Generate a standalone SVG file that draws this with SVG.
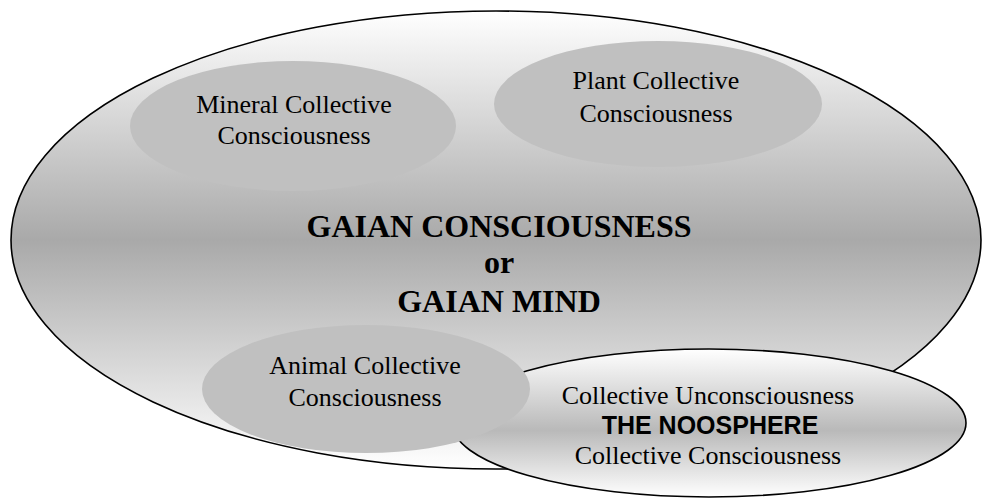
<svg xmlns="http://www.w3.org/2000/svg" width="982" height="502" viewBox="0 0 982 502">
  <defs>
    <linearGradient id="gBig" x1="0" y1="0" x2="0" y2="1">
      <stop offset="0" stop-color="#ffffff"/>
      <stop offset="0.5" stop-color="#a9a9a9"/>
      <stop offset="1" stop-color="#ffffff"/>
    </linearGradient>
    <linearGradient id="gNoo" x1="0" y1="0" x2="0" y2="1">
      <stop offset="0" stop-color="#ffffff"/>
      <stop offset="0.55" stop-color="#b9b9b9"/>
      <stop offset="1" stop-color="#ffffff"/>
    </linearGradient>
  </defs>
  <style>
    .sub { fill: #c0c0c0; stroke: none; }
    .outline { stroke: #000; stroke-width: 1.6; }
    .t { font-family: "Liberation Serif", "Times New Roman", serif; font-size: 26px; fill: #000; text-anchor: middle; }
    .title { font-family: "Liberation Serif", "Times New Roman", serif; font-size: 32px; font-weight: bold; fill: #000; text-anchor: middle; }
    .noo { font-family: "Liberation Sans", Arial, sans-serif; font-size: 25px; font-weight: bold; fill: #000; text-anchor: middle; }
  </style>
  <g id="gaian">
    <ellipse class="outline" cx="496" cy="240" rx="485" ry="229" fill="url(#gBig)"/>
    <text class="title" x="499" y="237">GAIAN CONSCIOUSNESS</text>
    <text class="title" x="499" y="273">or</text>
    <text class="title" x="499" y="312">GAIAN MIND</text>
  </g>
  <g id="mineral">
    <ellipse class="sub" cx="293" cy="126" rx="163" ry="65"/>
    <text class="t" x="294" y="113">Mineral Collective</text>
    <text class="t" x="294" y="144">Consciousness</text>
  </g>
  <g id="plant">
    <ellipse class="sub" cx="658" cy="104" rx="164" ry="63"/>
    <text class="t" x="656" y="89">Plant Collective</text>
    <text class="t" x="656" y="122">Consciousness</text>
  </g>
  <g id="noosphere">
    <ellipse class="outline" cx="709" cy="423" rx="257" ry="74" fill="url(#gNoo)"/>
    <text class="t" x="708" y="404">Collective Unconsciousness</text>
    <text class="noo" x="710" y="434">THE NOOSPHERE</text>
    <text class="t" x="708" y="464">Collective Consciousness</text>
  </g>
  <g id="animal">
    <ellipse class="sub" cx="366" cy="389" rx="164" ry="64"/>
    <text class="t" x="365" y="374">Animal Collective</text>
    <text class="t" x="365" y="406">Consciousness</text>
  </g>
  <g id="connectors"/>
</svg>
